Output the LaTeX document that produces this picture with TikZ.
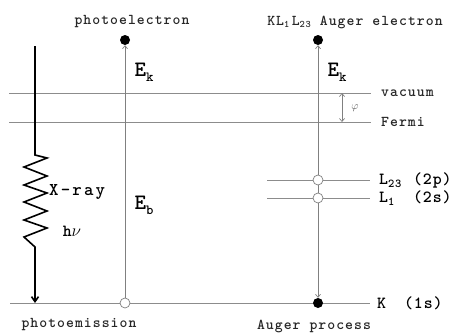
\documentclass[tikz,border=0pt]{standalone}
\usepackage{fontspec}
\newfontfamily\lmm{lmmonolt10-bold.otf}
\usetikzlibrary{arrows.meta}
\newcommand{\tsz}[2]{\lmm\fontsize{#1}{#1}\selectfont\addfontfeature{LetterSpace=#2}}
\newcommand{\msub}[1]{{\fontsize{10}{10}\selectfont\raisebox{-2.5pt}{#1}}}
\newcommand{\bsub}[1]{{\fontsize{14}{14}\selectfont\raisebox{-5pt}{#1}}}
\newcommand{\lsub}[1]{{\fontsize{12}{12}\selectfont\raisebox{-3.5pt}{#1}}}
\begin{document}
\begin{tikzpicture}[x=1pt,y=-1pt,
  level/.style={draw=black!45, line width=0.9pt},
  elec/.style={draw=black!50, line width=0.7pt},
  tipb/.style={-{Straight Barb[length=3pt,width=5pt]}},
  full/.style={circle, fill=black, inner sep=0pt, minimum size=10pt},
  hole/.style={circle, draw=black!50, fill=white, line width=0.7pt, inner sep=0pt, minimum size=10pt},
  mono/.style={font=\tsz{15}{7}, inner sep=0pt, text=black!85},
  big/.style={font=\tsz{22}{0}, inner sep=0pt},
  lev/.style={font=\tsz{17}{5}, inner sep=0pt, anchor=west},
  xray/.style={draw=black, line width=1.6pt}]
\useasboundingbox (0,0) rectangle (455,332);
% level lines
\coordinate (vacL) at (9,93);   \coordinate (vacR) at (371,93);
\coordinate (ferL) at (9,122);  \coordinate (ferR) at (371,122);
\coordinate (kL) at (10,303);   \coordinate (kR) at (370,303);
\coordinate (l23L) at (267,180); \coordinate (l23R) at (370,180);
\coordinate (l1L) at (267,198); \coordinate (l1R) at (370,198);
\draw[level] (vacL) -- (vacR);
\draw[level] (ferL) -- (ferR);
\draw[level] (kL) -- (kR);
\draw[level] (l23L) -- (l23R);
\draw[level] (l1L) -- (l1R);
% photoemission
\node[full] (pe) at (125,40) {};
\node[hole] (pk) at (125,303) {};
\draw[elec,tipb] (pk) -- (pe);
% Auger
\node[full] (ae) at (318,40) {};
\node[hole] (h23) at (318,180) {};
\node[hole] (h1) at (318,198) {};
\node[full] (ak) at (318,303) {};
\draw[elec,tipb] (h23) -- (ae);
\draw[elec] (h23) -- (h1);
\draw[elec,tipb] (h1) -- (ak);
% work function
\coordinate (phT) at (342,93); \coordinate (phB) at (342,122);
\draw[elec,{Straight Barb[length=3pt,width=5pt]}-{Straight Barb[length=3pt,width=5pt]}] (phT) -- (phB);
\node[text=black!65, font=\fontsize{11}{11}\selectfont] (phi) at (355,108) {$\varphi$};
% X-ray
\coordinate (xtop) at (35,46);
\coordinate (xbot) at (35,303);
\draw[xray, -{Straight Barb[length=5pt,width=7pt]}] (xtop) -- (35,155)
  -- (47,158) -- (24,167) -- (47,176) -- (24,185) -- (47,193) -- (24,202)
  -- (47,211) -- (24,220) -- (47,228) -- (24,237) -- (35,247) -- (xbot);
% labels
\node[mono] (lpe) at (132,22) {photoelectron};
\node[mono] (lae) at (355,22) {KL\msub{1}\,L\msub{23} Auger electron};
\node[mono] (lpm) at (79,325) {photoemission};
\node[mono] (lap) at (314,326) {Auger process};
\node[mono, anchor=west] (lvac) at (381,93) {vacuum};
\node[mono, anchor=west] (lfer) at (381,122) {Fermi};
\node[big] (ek1) at (144,72) {E\bsub{k}};
\node[big] (eb) at (144,205) {E\bsub{b}};
\node[big] (ek2) at (337,72) {E\bsub{k}};
\node[lev] (l23) at (379,180) {\makebox[34pt][l]{L\lsub{23}}(2p)};
\node[lev] (l1) at (379,198) {\makebox[34pt][l]{L\lsub{1}}(2s)};
\node[lev] (k1s) at (377,303) {\makebox[27pt][l]{K}(1s)};
\node[font=\tsz{18}{12}, inner sep=0pt, anchor=west] (xr) at (49,192) {X-ray};
\node[font=\tsz{17}{0}, inner sep=0pt] (hnu) at (72,231) {h$\nu$};
\end{tikzpicture}
\end{document}
